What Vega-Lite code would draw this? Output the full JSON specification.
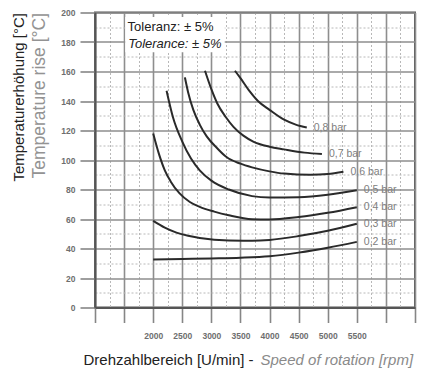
{
  "$schema": "https://vega.github.io/schema/vega-lite/v6.json",
  "width": 320,
  "height": 295,
  "autosize": "none",
  "padding": {"left": 95, "top": 12.5, "right": 7, "bottom": 63.5},
  "background": "white",
  "config": {
    "view": {"stroke": "#555", "strokeWidth": 2},
    "font": "Liberation Sans, Arial, sans-serif"
  },
  "datasets": {
    "curves": [
      {"pressure": "0,2 bar", "rpm": 2000, "temp": 32.5},
      {"pressure": "0,2 bar", "rpm": 2500, "temp": 32.9},
      {"pressure": "0,2 bar", "rpm": 3000, "temp": 33.3},
      {"pressure": "0,2 bar", "rpm": 3500, "temp": 33.8},
      {"pressure": "0,2 bar", "rpm": 4000, "temp": 34.8},
      {"pressure": "0,2 bar", "rpm": 4500, "temp": 37.2},
      {"pressure": "0,2 bar", "rpm": 5000, "temp": 40.5},
      {"pressure": "0,2 bar", "rpm": 5500, "temp": 44.5},

      {"pressure": "0,3 bar", "rpm": 2000, "temp": 58.8},
      {"pressure": "0,3 bar", "rpm": 2200, "temp": 54.2},
      {"pressure": "0,3 bar", "rpm": 2400, "temp": 50.8},
      {"pressure": "0,3 bar", "rpm": 2600, "temp": 48.6},
      {"pressure": "0,3 bar", "rpm": 2800, "temp": 47.1},
      {"pressure": "0,3 bar", "rpm": 3300, "temp": 45.4},
      {"pressure": "0,3 bar", "rpm": 3700, "temp": 45.3},
      {"pressure": "0,3 bar", "rpm": 4000, "temp": 45.8},
      {"pressure": "0,3 bar", "rpm": 4500, "temp": 48.4},
      {"pressure": "0,3 bar", "rpm": 5000, "temp": 52.0},
      {"pressure": "0,3 bar", "rpm": 5500, "temp": 56.8},

      {"pressure": "0,4 bar", "rpm": 2000, "temp": 118},
      {"pressure": "0,4 bar", "rpm": 2100, "temp": 104},
      {"pressure": "0,4 bar", "rpm": 2200, "temp": 93},
      {"pressure": "0,4 bar", "rpm": 2300, "temp": 85.5},
      {"pressure": "0,4 bar", "rpm": 2450, "temp": 77.5},
      {"pressure": "0,4 bar", "rpm": 2630, "temp": 71.5},
      {"pressure": "0,4 bar", "rpm": 2800, "temp": 68.2},
      {"pressure": "0,4 bar", "rpm": 3050, "temp": 65},
      {"pressure": "0,4 bar", "rpm": 3300, "temp": 62.5},
      {"pressure": "0,4 bar", "rpm": 3700, "temp": 59.8},
      {"pressure": "0,4 bar", "rpm": 4000, "temp": 59.6},
      {"pressure": "0,4 bar", "rpm": 4500, "temp": 61.3},
      {"pressure": "0,4 bar", "rpm": 5000, "temp": 64.2},
      {"pressure": "0,4 bar", "rpm": 5500, "temp": 68},

      {"pressure": "0,5 bar", "rpm": 2230, "temp": 147},
      {"pressure": "0,5 bar", "rpm": 2340, "temp": 129},
      {"pressure": "0,5 bar", "rpm": 2500, "temp": 112.5},
      {"pressure": "0,5 bar", "rpm": 2650, "temp": 101},
      {"pressure": "0,5 bar", "rpm": 2800, "temp": 93},
      {"pressure": "0,5 bar", "rpm": 3000, "temp": 86},
      {"pressure": "0,5 bar", "rpm": 3300, "temp": 80},
      {"pressure": "0,5 bar", "rpm": 3700, "temp": 75.5},
      {"pressure": "0,5 bar", "rpm": 4000, "temp": 74.5},
      {"pressure": "0,5 bar", "rpm": 4500, "temp": 74.8},
      {"pressure": "0,5 bar", "rpm": 5000, "temp": 76.5},
      {"pressure": "0,5 bar", "rpm": 5500, "temp": 79.5},

      {"pressure": "0,6 bar", "rpm": 2545, "temp": 156},
      {"pressure": "0,6 bar", "rpm": 2600, "temp": 146},
      {"pressure": "0,6 bar", "rpm": 2690, "temp": 134},
      {"pressure": "0,6 bar", "rpm": 2800, "temp": 124},
      {"pressure": "0,6 bar", "rpm": 2920, "temp": 116},
      {"pressure": "0,6 bar", "rpm": 3100, "temp": 108},
      {"pressure": "0,6 bar", "rpm": 3260, "temp": 102},
      {"pressure": "0,6 bar", "rpm": 3500, "temp": 97.5},
      {"pressure": "0,6 bar", "rpm": 3700, "temp": 95},
      {"pressure": "0,6 bar", "rpm": 4000, "temp": 92.3},
      {"pressure": "0,6 bar", "rpm": 4250, "temp": 90.8},
      {"pressure": "0,6 bar", "rpm": 4700, "temp": 90},
      {"pressure": "0,6 bar", "rpm": 5000, "temp": 90.5},
      {"pressure": "0,6 bar", "rpm": 5270, "temp": 92},

      {"pressure": "0,7 bar", "rpm": 2890, "temp": 160.5},
      {"pressure": "0,7 bar", "rpm": 3000, "temp": 148},
      {"pressure": "0,7 bar", "rpm": 3100, "temp": 138.5},
      {"pressure": "0,7 bar", "rpm": 3250, "temp": 129},
      {"pressure": "0,7 bar", "rpm": 3380, "temp": 122.5},
      {"pressure": "0,7 bar", "rpm": 3550, "temp": 116.5},
      {"pressure": "0,7 bar", "rpm": 3720, "temp": 112.5},
      {"pressure": "0,7 bar", "rpm": 4000, "temp": 109},
      {"pressure": "0,7 bar", "rpm": 4250, "temp": 107.2},
      {"pressure": "0,7 bar", "rpm": 4600, "temp": 105},
      {"pressure": "0,7 bar", "rpm": 4900, "temp": 104},

      {"pressure": "0,8 bar", "rpm": 3405, "temp": 160.5},
      {"pressure": "0,8 bar", "rpm": 3500, "temp": 155.5},
      {"pressure": "0,8 bar", "rpm": 3660, "temp": 146.5},
      {"pressure": "0,8 bar", "rpm": 3800, "temp": 140},
      {"pressure": "0,8 bar", "rpm": 4000, "temp": 134},
      {"pressure": "0,8 bar", "rpm": 4250, "temp": 127.3},
      {"pressure": "0,8 bar", "rpm": 4450, "temp": 124},
      {"pressure": "0,8 bar", "rpm": 4640, "temp": 122}
    ],
    "noteBox": [{"rpmStart": 1520, "rpmEnd": 3230, "tempLow": 173, "tempHigh": 197}],
    "notes": [
      {"rpm": 1560, "temp": 190, "text": "Toleranz: ± 5%", "lang": "de"},
      {"rpm": 1570, "temp": 178.5, "text": "Tolerance: ± 5%", "lang": "en"}
    ]
  },
  "layer": [
    {
      "data": {"name": "noteBox"},
      "mark": {"type": "rect", "fill": "white"},
      "encoding": {
        "x": {
          "field": "rpmStart", "type": "quantitative",
          "scale": {"domain": [1000, 6500], "nice": false, "zero": false},
          "axis": {
            "orient": "bottom",
            "values": [1250, 1750, 2250, 2750, 3250, 3750, 4250, 4750, 5250, 5750, 6250],
            "grid": true, "gridColor": "#b8b8b8", "gridDash": [2, 2], "gridWidth": 1,
            "labels": false, "ticks": false, "domain": false,
            "title": "Speed of rotation [rpm]",
            "titleColor": "#8a8a8a", "titleFontStyle": "italic", "titleFontWeight": "normal",
            "titleFontSize": 15, "titleX": 165, "titleY": 57,
            "titleAlign": "left", "titleBaseline": "alphabetic"
          }
        },
        "x2": {"field": "rpmEnd"},
        "y": {
          "field": "tempLow", "type": "quantitative",
          "scale": {"domain": [0, 200], "nice": false},
          "axis": {
            "orient": "left",
            "values": [10, 30, 50, 70, 90, 110, 130, 150, 170, 190],
            "grid": true, "gridColor": "#b8b8b8", "gridDash": [2, 2], "gridWidth": 1,
            "labels": false, "ticks": false, "domain": false,
            "title": "Temperature rise [°C]",
            "titleColor": "#939393", "titleFontWeight": "normal", "titleFontSize": 17.5,
            "titleAngle": 270, "titleX": -51, "titleY": 0,
            "titleAlign": "right", "titleBaseline": "alphabetic"
          }
        },
        "y2": {"field": "tempHigh"}
      }
    },
    {
      "data": {"name": "curves"},
      "mark": {"type": "line", "interpolate": "monotone", "stroke": "#2a2a2a", "strokeWidth": 2},
      "encoding": {
        "x": {
          "field": "rpm", "type": "quantitative",
          "scale": {"domain": [1000, 6500], "nice": false, "zero": false},
          "axis": {
            "orient": "bottom",
            "values": [1000, 1500, 2000, 2500, 3000, 3500, 4000, 4500, 5000, 5500, 6000, 6500],
            "grid": true, "gridColor": "#8e8e8e", "gridWidth": 1.6,
            "domain": true, "domainColor": "#555", "domainWidth": 2,
            "ticks": true, "tickSize": 15, "tickColor": "#868686", "tickWidth": 1.6,
            "labelExpr": "datum.value >= 2000 && datum.value <= 5500 ? datum.value : ''",
            "labelFontWeight": "bold", "labelFontSize": 8.5, "labelColor": "#6e6e6e",
            "labelPadding": 9,
            "title": "Drehzahlbereich [U/min] - ",
            "titleColor": "#222", "titleFontWeight": "normal", "titleFontSize": 15,
            "titleX": -12, "titleY": 57, "titleAlign": "left", "titleBaseline": "alphabetic"
          }
        },
        "y": {
          "field": "temp", "type": "quantitative",
          "scale": {"domain": [0, 200], "nice": false},
          "axis": {
            "orient": "left",
            "values": [0, 20, 40, 60, 80, 100, 120, 140, 160, 180, 200],
            "grid": true, "gridColor": "#8e8e8e", "gridWidth": 1.6,
            "domain": true, "domainColor": "#555", "domainWidth": 2,
            "ticks": true, "tickSize": 15, "tickColor": "#868686", "tickWidth": 1.6,
            "labelFontWeight": "bold", "labelFontSize": 8.5, "labelColor": "#6e6e6e",
            "labelPadding": 5,
            "title": "Temperaturerhöhung [°C]",
            "titleColor": "#222", "titleFontWeight": "normal", "titleFontSize": 15,
            "titleAngle": 270, "titleX": -72, "titleY": 0,
            "titleAlign": "right", "titleBaseline": "alphabetic"
          }
        },
        "detail": {"field": "pressure", "type": "nominal"}
      }
    },
    {
      "data": {"name": "curves"},
      "transform": [
        {"joinaggregate": [{"op": "max", "field": "rpm", "as": "endRpm"}], "groupby": ["pressure"]},
        {"filter": "datum.rpm === datum.endRpm"}
      ],
      "mark": {"type": "text", "align": "left", "baseline": "middle", "dx": 7, "fontSize": 10.5, "fill": "#808080"},
      "encoding": {
        "x": {"field": "rpm", "type": "quantitative", "axis": null},
        "y": {"field": "temp", "type": "quantitative", "axis": null},
        "text": {"field": "pressure"}
      }
    },
    {
      "data": {"name": "notes"},
      "transform": [{"filter": "datum.lang === 'de'"}],
      "mark": {"type": "text", "align": "left", "baseline": "middle", "fontSize": 13, "fill": "#222"},
      "encoding": {
        "x": {"field": "rpm", "type": "quantitative", "axis": null},
        "y": {"field": "temp", "type": "quantitative", "axis": null},
        "text": {"field": "text"}
      }
    },
    {
      "data": {"name": "notes"},
      "transform": [{"filter": "datum.lang === 'en'"}],
      "mark": {"type": "text", "align": "left", "baseline": "middle", "fontSize": 13, "fontStyle": "italic", "fill": "#222"},
      "encoding": {
        "x": {"field": "rpm", "type": "quantitative", "axis": null},
        "y": {"field": "temp", "type": "quantitative", "axis": null},
        "text": {"field": "text"}
      }
    }
  ],
  "resolve": {"axis": {"x": "independent", "y": "independent"}}
}
